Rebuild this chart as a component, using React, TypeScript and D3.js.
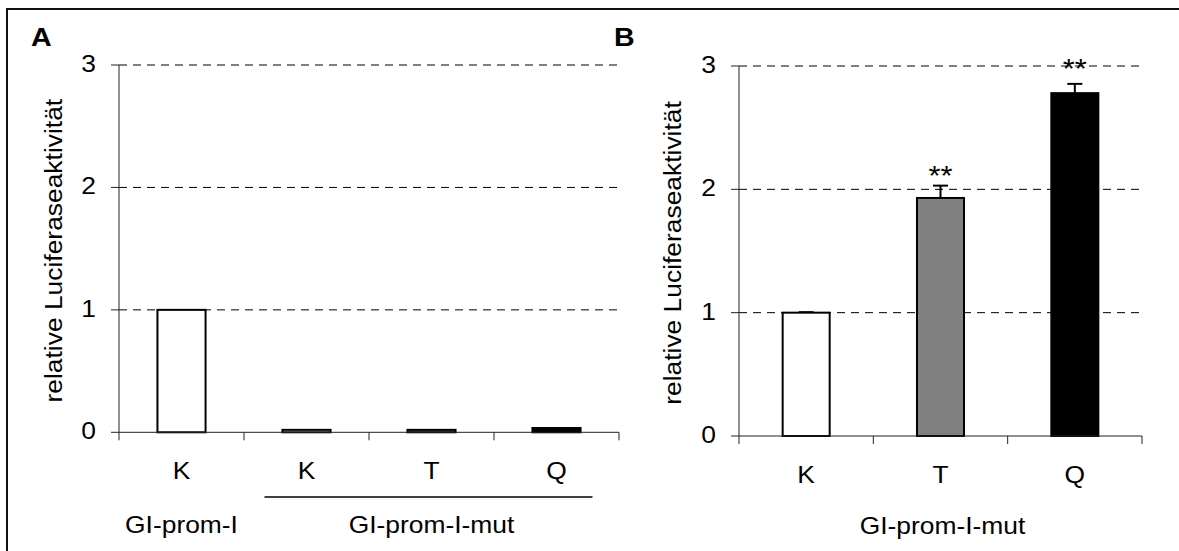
import React from "react";
import * as d3 from "d3";

// Panel A data
const catsA = ["K", "K", "T", "Q"];
const groupA = ["GI-prom-I", "GI-prom-I-mut"];
const valuesA = [1.0, 0.02, 0.02, 0.035];
const fillsA = ["#ffffff", "#ffffff", "#808080", "#000000"];

// Panel B data
const catsB = ["K", "T", "Q"];
const groupB = "GI-prom-I-mut";
const valuesB = [1.0, 1.93, 2.78];
const errorsB = [0.004, 0.1, 0.075];
const fillsB = ["#ffffff", "#808080", "#000000"];
const starsB = ["", "**", "**"];
const starLevelB = [0, 2.06, 2.93];

const yTicks = [0, 1, 2, 3];
const yLabel = "relative Luciferaseaktivität";

const FONT = "'Liberation Sans', Arial, Helvetica, sans-serif";
const FS = 24;
const SX = 1.1;

function T(props: any) {
  const { x, y, rot = 0, anchor = "start", size = FS, weight = "normal", children } = props;
  return (
    <text
      transform={`translate(${x},${y}) rotate(${rot}) scale(${SX},1)`}
      textAnchor={anchor}
      fontFamily={FONT}
      fontSize={size}
      fontWeight={weight}
      fill="#000"
    >
      {children}
    </text>
  );
}

function Panel(props: any) {
  const { x0, x1, y0, y1, cats, values, fills, errors, stars, starLevels, labelX, letter, letterX, tickLabelY, barRatio } = props;
  const ids = cats.map((_: string, i: number) => String(i));
  const x = d3.scaleBand().domain(ids).range([x0, x1]).padding(0);
  const y = d3.scaleLinear().domain([0, 3]).range([y0, y1]);
  const bw = x.bandwidth();
  const barW = bw * barRatio;
  return (
    <g>
      <T x={letterX} y={46} size={26} weight="bold">{letter}</T>
      {yTicks.filter((t) => t > 0).map((t) => (
        <line key={"g" + t} x1={x0} x2={x1} y1={y(t)} y2={y(t)} stroke="#000" strokeWidth={1} strokeDasharray="8,6" />
      ))}
      {yTicks.map((t) => (
        <g key={"t" + t}>
          <line x1={x0 - 8} x2={x0} y1={y(t)} y2={y(t)} stroke="#222" strokeWidth={1} />
          <T x={x0 - 23} y={y(t) + 7} anchor="end">{t}</T>
        </g>
      ))}
      <line x1={x0} x2={x0} y1={y(3)} y2={y(0)} stroke="#222" strokeWidth={1} />
      {values.map((v: number, i: number) => {
        const cx = (x(ids[i]) as number) + bw / 2;
        const e = errors ? errors[i] : 0;
        return (
          <g key={"b" + i}>
            {e > 0 && (
              <g>
                <line x1={cx} x2={cx} y1={y(v)} y2={y(v + e)} stroke="#000" strokeWidth={2} />
                <line x1={cx - 7.5} x2={cx + 7.5} y1={y(v + e)} y2={y(v + e)} stroke="#000" strokeWidth={2} />
              </g>
            )}
            <rect x={cx - barW / 2} y={y(v)} width={barW} height={y(0) - y(v)} fill={fills[i]} stroke="#000" strokeWidth={2} />
            {stars && stars[i] && (
              <T x={cx} y={y(starLevels[i]) + 3} anchor="middle" size={28}>{stars[i]}</T>
            )}
            <T x={cx} y={tickLabelY} anchor="middle">{cats[i]}</T>
          </g>
        );
      })}
      <line x1={x0} x2={x1} y1={y(0)} y2={y(0)} stroke="#222" strokeWidth={1} />
      {ids.concat(["end"]).map((id: string, i: number) => {
        const xx = i < ids.length ? (x(id) as number) : x1;
        return <line key={"xt" + i} x1={xx} x2={xx} y1={y(0)} y2={y(0) + 8} stroke="#222" strokeWidth={1} />;
      })}
      <T x={labelX} y={(y(0) + y(3)) / 2 + 2} rot={-90} anchor="middle">{yLabel}</T>
      {props.children && props.children(x, bw)}
    </g>
  );
}

export default function App() {
  return (
    <svg width={1179} height={551} style={{ position: "absolute", left: 0, top: 0, background: "#fff" }}>
      <rect x={0} y={0} width={1179} height={551} fill="#fff" />
      <rect x={7} y={9} width={1200} height={600} fill="none" stroke="#111" strokeWidth={2} />
      <Panel
        x0={119} x1={619} y0={432.3} y1={65}
        cats={catsA} values={valuesA} fills={fillsA}
        labelX={62} letter="A" letterX={31} tickLabelY={479} barRatio={0.385}
      >
        {(x: any, bw: number) => {
          const c0 = x("0") + bw / 2;
          const c1 = x("1") + bw / 2;
          const c3 = x("3") + bw / 2;
          return (
            <g>
              <line x1={c1 - 42} x2={c3 + 36} y1={497} y2={497} stroke="#000" strokeWidth={1.5} />
              <T x={c0} y={533} anchor="middle">{groupA[0]}</T>
              <T x={(c1 + c3) / 2} y={533} anchor="middle">{groupA[1]}</T>
            </g>
          );
        }}
      </Panel>
      <Panel
        x0={739} x1={1142} y0={436} y1={66}
        cats={catsB} values={valuesB} fills={fillsB} errors={errorsB}
        stars={starsB} starLevels={starLevelB}
        labelX={681} letter="B" letterX={614} tickLabelY={483} barRatio={0.35}
      >
        {() => (
          <T x={(739 + 1142) / 2 + 2} y={534} anchor="middle">{groupB}</T>
        )}
      </Panel>
    </svg>
  );
}
